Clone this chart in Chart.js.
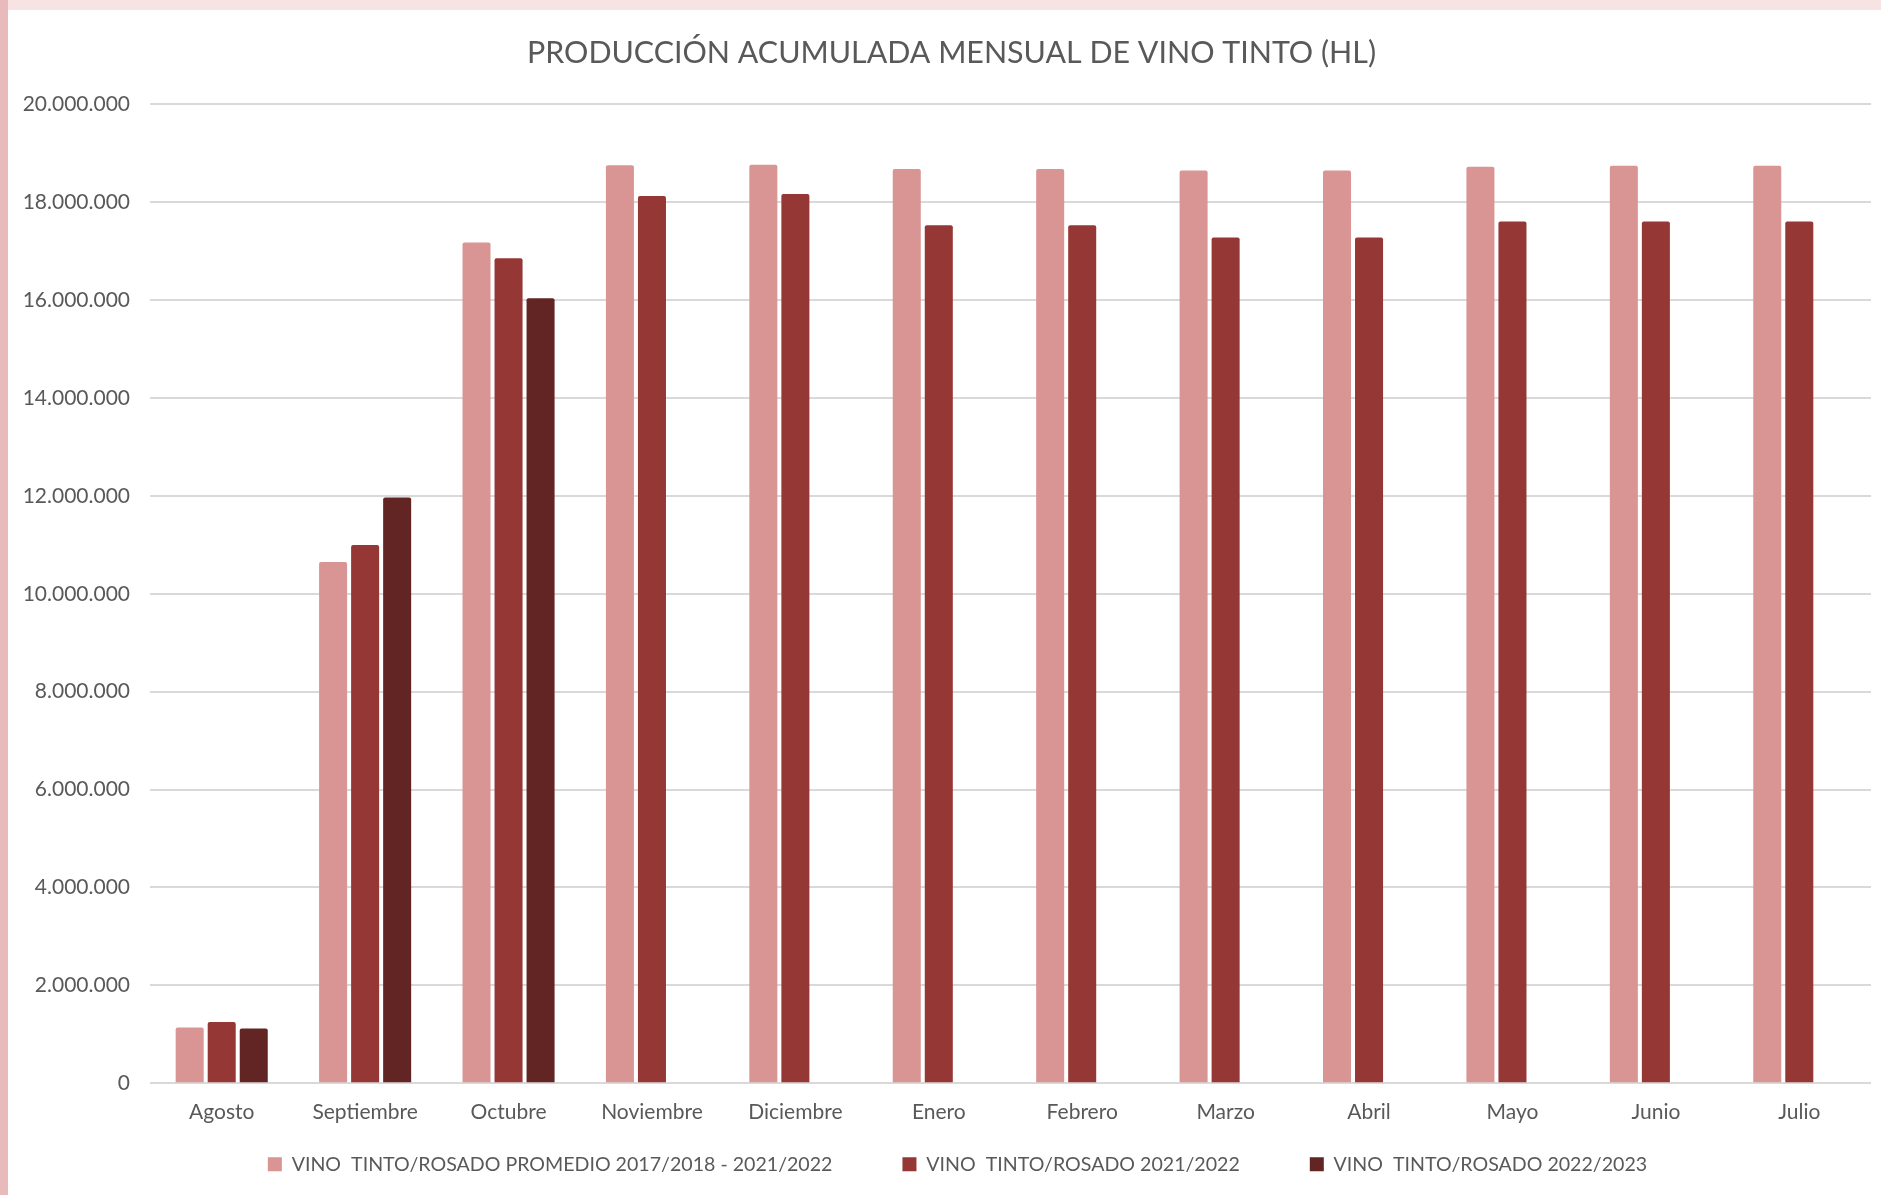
<!DOCTYPE html>
<html>
<head>
<meta charset="utf-8">
<script src="https://cdn.jsdelivr.net/npm/chart.js@4.4.1/dist/chart.umd.min.js"></script>
<style>
    html, body { margin: 0; padding: 0; }
    body { width: 1881px; height: 1195px; background: #f7e3e4; position: relative; overflow: hidden; }
    .left-strip { position: absolute; left: 0; top: 0; width: 8px; height: 1195px; background: #e9babb; }
    .panel { position: absolute; left: 8px; top: 10px; width: 1873px; height: 1185px; background: #ffffff; }
</style>
</head>
<body>
<div class="left-strip"></div>
<div class="panel"><canvas id="wineChart"></canvas></div>
<script>
// ========== DATA ==========
const months = ['Agosto', 'Septiembre', 'Octubre', 'Noviembre', 'Diciembre', 'Enero',
                'Febrero', 'Marzo', 'Abril', 'Mayo', 'Junio', 'Julio'];
const promedio1718_2122 = [1140000, 10650000, 17180000, 18760000, 18770000, 18680000,
                           18680000, 18650000, 18650000, 18730000, 18750000, 18750000];
const campana2122 = [1250000, 11000000, 16860000, 18130000, 18170000, 17530000,
                     17530000, 17280000, 17280000, 17610000, 17610000, 17610000];
const campana2223 = [1120000, 11970000, 16040000, null, null, null,
                     null, null, null, null, null, null];
const seriesLabels = [
    'VINO  TINTO/ROSADO PROMEDIO 2017/2018 - 2021/2022',
    'VINO  TINTO/ROSADO 2021/2022',
    'VINO  TINTO/ROSADO 2022/2023'
];
const yTicks = [0, 2000000, 4000000, 6000000, 8000000, 10000000,
                12000000, 14000000, 16000000, 18000000, 20000000];

const FONT = 'Lato, "Open Sans", sans-serif';
const TEXT = '#595959';

function formatMiles(v) {
    return String(v).replace(/\B(?=(\d{3})+(?!\d))/g, '.');
}

function makeSet(label, data, color) {
    return {
        label: label,
        data: data,
        backgroundColor: color,
        borderWidth: 0,
        borderRadius: 2,
        borderSkipped: 'bottom',
        barPercentage: 0.875,
        categoryPercentage: 0.67
    };
}

// move a layout box sideways and stretch its top edge while it draws
// (the legend clips to its own box, so the bottom stays put)
function nudge(box, dx, topLift) {
    const draw = box.draw;
    box.draw = function () {
        this.left += dx; this.right += dx; this.top -= topLift;
        draw.apply(this, arguments);
        this.left -= dx; this.right -= dx; this.top += topLift;
    };
}

// legend padding is used both between items and above them; this keeps the
// wide horizontal gaps while giving back the vertical space to the plot
const LEGEND_TRIM = 48;
const boxTweaks = {
    id: 'boxTweaks',
    beforeLayout(chart) {
        if (chart._tweaked) return;
        const lg = chart.legend;
        const fit = lg.fit;
        lg.fit = function () { fit.call(this); this.height -= LEGEND_TRIM; };
        nudge(lg, 18, LEGEND_TRIM);
        nudge(chart.titleBlock, 12, 0);
        chart._tweaked = true;
    }
};

new Chart(document.getElementById('wineChart'), {
    type: 'bar',
    data: {
        labels: months,
        datasets: [
            makeSet(seriesLabels[0], promedio1718_2122, '#d99594'),
            makeSet(seriesLabels[1], campana2122, '#953735'),
            makeSet(seriesLabels[2], campana2223, '#632523')
        ]
    },
    plugins: [boxTweaks],
    options: {
        responsive: true,
        maintainAspectRatio: false,
        animation: false,
        layout: { padding: { left: 0, right: 10, top: 0, bottom: 11 } },
        plugins: {
            title: {
                display: true,
                text: 'PRODUCCIÓN ACUMULADA MENSUAL DE VINO TINTO (HL)',
                color: TEXT,
                font: { family: FONT, size: 30.4, weight: 'normal' },
                padding: { top: 25, bottom: 33 }
            },
            legend: {
                position: 'bottom',
                labels: {
                    color: TEXT,
                    font: { family: FONT, size: 19.6 },
                    boxWidth: 14,
                    boxHeight: 14,
                    padding: 70
                }
            },
            tooltip: { enabled: false }
        },
        scales: {
            x: {
                grid: { display: false },
                border: { display: false },
                ticks: { color: TEXT, font: { family: FONT, size: 21 }, padding: 8, autoSkip: false, maxRotation: 0 }
            },
            y: {
                min: 0,
                max: 20000000,
                afterBuildTicks: s => { s.ticks = yTicks.map(v => ({ value: v })); },
                afterFit: s => { s.width = 142; },
                grid: { color: '#d9d9d9', lineWidth: 2, drawTicks: false },
                border: { display: false },
                ticks: {
                    color: TEXT,
                    font: { family: FONT, size: 21 },
                    padding: 20,
                    callback: v => formatMiles(v)
                }
            }
        }
    }
});
</script>
</body>
</html>
